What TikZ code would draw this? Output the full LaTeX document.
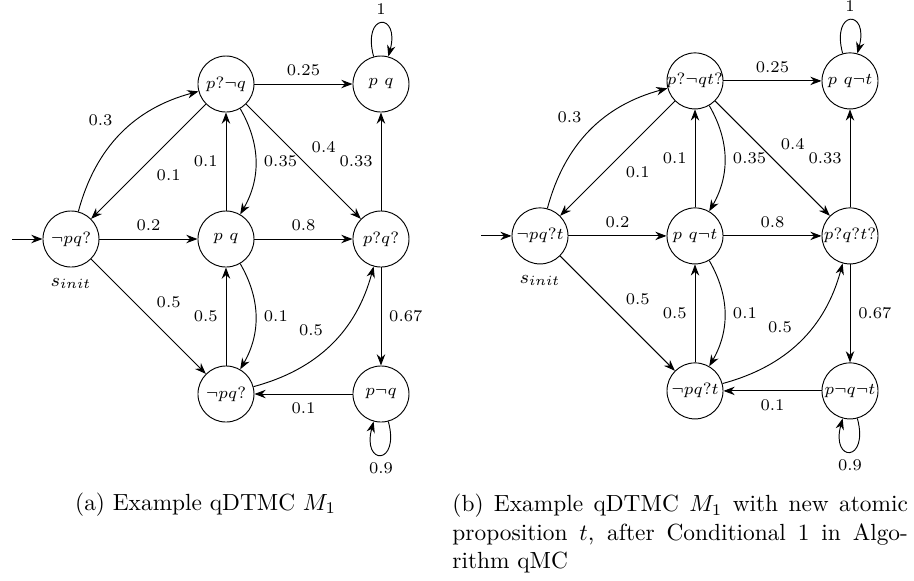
\documentclass[tikz,border=0pt]{standalone}
\usepackage{amsmath}
\usepackage{amssymb}
\usepackage{tikz}
\usetikzlibrary{arrows.meta}

% state text may stick out of the circle
\newcommand{\stlabel}[1]{\makebox[0pt]{$#1$}}

\tikzset{
  state/.style={circle, draw, minimum size=0.843cm, inner sep=0pt, font=\scriptsize},
  trans/.style={-{Stealth}, font=\scriptsize},
  initlabel/.style={label={[font=\footnotesize, label distance=1pt]below:$s_{init}$}},
}

\begin{document}
\begin{tikzpicture}[x=2.332cm, y=2.332cm]
\useasboundingbox (-0.458, -2.206) rectangle (5.439, 1.542);

% (a) qDTMC M_1
\begin{scope}
\node[state, initlabel] (a0) at (0, 0) {\stlabel{\neg p q?}};
\node[state] (a1) at (1, 1) {\stlabel{p?\neg q}};
\node[state] (a2) at (2, 1) {\stlabel{p\ q}};
\node[state] (a3) at (1, 0) {\stlabel{p\ q}};
\node[state] (a4) at (2, 0) {\stlabel{p?q?}};
\node[state] (a5) at (1, -1) {\stlabel{\neg p q?}};
\node[state] (a6) at (2, -1) {\stlabel{p\neg q}};
\coordinate (ain) at (-0.38, 0);

% transitions
\draw[trans] (ain) -- (a0);
\draw[trans] (a0) to[bend left=30] node[above left] {0.3} (a1);
\draw[trans] (a1) -- node[below right] {0.1} (a0);
\draw[trans] (a0) -- node[above] {0.2} (a3);
\draw[trans] (a0) -- node[above right] {0.5} (a5);
\draw[trans] (a1) -- node[above] {0.25} (a2);
\draw[trans] (a2) to[loop above] node[above] {1} (a2);
\draw[trans] (a1) to[bend left=30] node[right] {0.35} (a3);
\draw[trans] (a3) -- node[left] {0.1} (a1);
\draw[trans] (a1) -- node[above right] {0.4} (a4);
\draw[trans] (a3) -- node[above] {0.8} (a4);
\draw[trans] (a4) -- node[left] {0.33} (a2);
\draw[trans] (a3) to[bend left=30] node[right] {0.1} (a5);
\draw[trans] (a5) -- node[left] {0.5} (a3);
\draw[trans] (a5) to[bend right=30] node[above left] {0.5} (a4);
\draw[trans] (a4) -- node[right] {0.67} (a6);
\draw[trans] (a6) -- node[below] {0.1} (a5);
\draw[trans] (a6) to[loop below] node[below] {0.9} (a6);
\end{scope}

% (b) qDTMC M_1 with t
\begin{scope}[shift={(3.026, 0.02)}]
\node[state, initlabel] (b0) at (0, 0) {\stlabel{\neg p q?t}};
\node[state] (b1) at (1, 1) {\stlabel{p?\neg q t?}};
\node[state] (b2) at (2, 1) {\stlabel{p\ q\neg t}};
\node[state] (b3) at (1, 0) {\stlabel{p\ q\neg t}};
\node[state] (b4) at (2, 0) {\stlabel{p?q?t?}};
\node[state] (b5) at (1, -1) {\stlabel{\neg p q?t}};
\node[state] (b6) at (2, -1) {\stlabel{p\neg q\neg t}};
\coordinate (bin) at (-0.38, 0);

% transitions
\draw[trans] (bin) -- (b0);
\draw[trans] (b0) to[bend left=30] node[above left] {0.3} (b1);
\draw[trans] (b1) -- node[below right] {0.1} (b0);
\draw[trans] (b0) -- node[above] {0.2} (b3);
\draw[trans] (b0) -- node[above right] {0.5} (b5);
\draw[trans] (b1) -- node[above] {0.25} (b2);
\draw[trans] (b2) to[loop above] node[above] {1} (b2);
\draw[trans] (b1) to[bend left=30] node[right] {0.35} (b3);
\draw[trans] (b3) -- node[left] {0.1} (b1);
\draw[trans] (b1) -- node[above right] {0.4} (b4);
\draw[trans] (b3) -- node[above] {0.8} (b4);
\draw[trans] (b4) -- node[left] {0.33} (b2);
\draw[trans] (b3) to[bend left=30] node[right] {0.1} (b5);
\draw[trans] (b5) -- node[left] {0.5} (b3);
\draw[trans] (b5) to[bend right=30] node[above left] {0.5} (b4);
\draw[trans] (b4) -- node[right] {0.67} (b6);
\draw[trans] (b6) -- node[below] {0.1} (b5);
\draw[trans] (b6) to[loop below] node[below] {0.9} (b6);
\end{scope}

% captions
\node[anchor=base west] (capa) at (-0.026, -1.75) {(a) Example qDTMC $M_1$};
\node[anchor=north west, inner sep=0pt, text width=195pt, align=justify] (capb) at (2.458, -1.645)
  {(b) Example qDTMC $M_1$ with new atomic\linebreak proposition $t$, after Conditional 1 in Algo-\linebreak rithm qMC};
\end{tikzpicture}
\end{document}
